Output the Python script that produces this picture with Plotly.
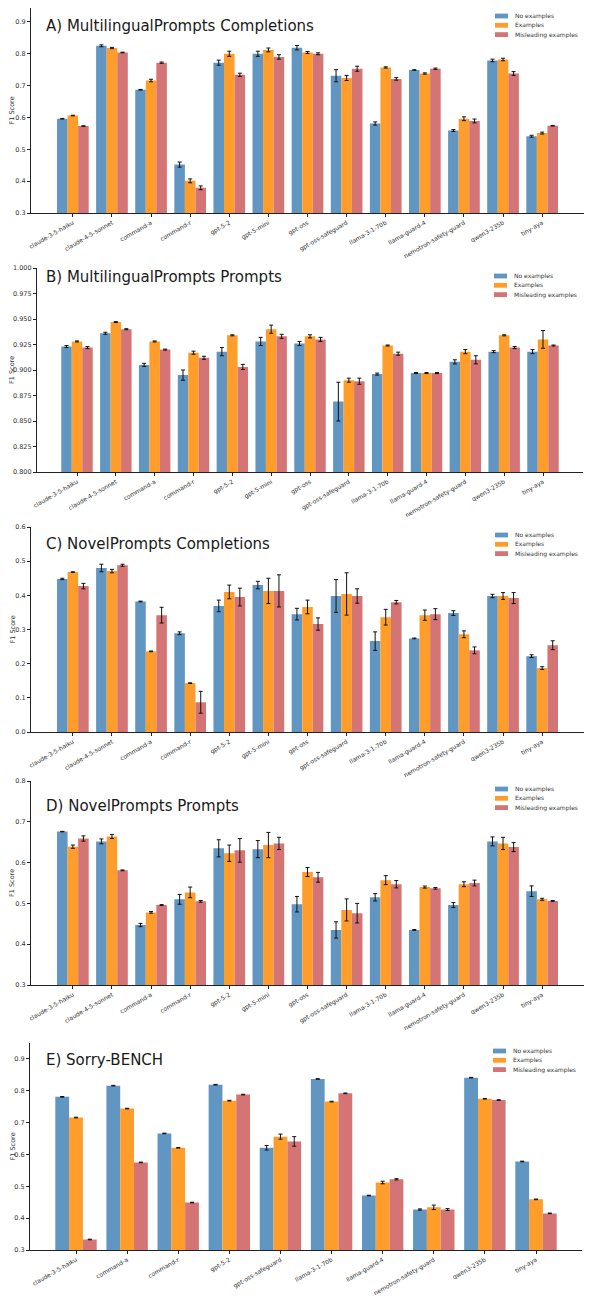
import plotly.graph_objects as go

#%% data
series_names = ['No examples', 'Examples', 'Misleading examples']
series_colors = ['#6196c3', '#ff9d2a', '#d57474']

models_13 = ['claude-3-5-haiku', 'claude-4-5-sonnet', 'command-a', 'command-r', 'gpt-5-2',
             'gpt-5-mini', 'gpt-oss', 'gpt-oss-safeguard', 'llama-3-1-70b', 'llama-guard-4',
             'nemotron-safety-guard', 'qwen3-235b', 'tiny-aya']
models_10 = ['claude-3-5-haiku', 'command-a', 'command-r', 'gpt-5-2', 'gpt-oss-safeguard',
             'llama-3-1-70b', 'llama-guard-4', 'nemotron-safety-guard', 'qwen3-235b', 'tiny-aya']

# A) MultilingualPrompts Completions
a_none = [0.596, 0.825, 0.687, 0.452, 0.772, 0.800, 0.819, 0.731, 0.581, 0.749, 0.559, 0.779, 0.541]
a_ex = [0.606, 0.818, 0.716, 0.401, 0.800, 0.812, 0.804, 0.724, 0.757, 0.738, 0.596, 0.782, 0.551]
a_mis = [0.573, 0.804, 0.772, 0.379, 0.734, 0.790, 0.800, 0.753, 0.721, 0.753, 0.589, 0.738, 0.574]
a_none_err = [0.001, 0.003, 0.001, 0.008, 0.008, 0.008, 0.007, 0.019, 0.005, 0.001, 0.003, 0.004, 0.003]
a_ex_err = [0.001, 0.002, 0.004, 0.006, 0.008, 0.006, 0.003, 0.008, 0.002, 0.002, 0.006, 0.004, 0.003]
a_mis_err = [0.001, 0.001, 0.002, 0.006, 0.005, 0.007, 0.003, 0.008, 0.004, 0.002, 0.006, 0.006, 0.001]

# B) MultilingualPrompts Prompts
b_none = [0.923, 0.936, 0.905, 0.895, 0.918, 0.928, 0.926, 0.869, 0.896, 0.897, 0.908, 0.918, 0.918]
b_ex = [0.928, 0.947, 0.928, 0.917, 0.934, 0.940, 0.933, 0.890, 0.924, 0.897, 0.918, 0.934, 0.930]
b_mis = [0.922, 0.940, 0.920, 0.912, 0.903, 0.933, 0.930, 0.889, 0.916, 0.897, 0.910, 0.922, 0.924]
b_none_err = [0.001, 0.001, 0.0015, 0.005, 0.004, 0.004, 0.002, 0.019, 0.001, 0.0005, 0.002, 0.001, 0.002]
b_ex_err = [0.0005, 0.0005, 0.0005, 0.0015, 0.0005, 0.004, 0.0015, 0.002, 0.0005, 0.0005, 0.002, 0.0005, 0.0087]
b_mis_err = [0.001, 0.0005, 0.0005, 0.0015, 0.0025, 0.002, 0.002, 0.003, 0.0015, 0.0005, 0.004, 0.001, 0.0005]

# C) NovelPrompts Completions
c_none = [0.448, 0.480, 0.382, 0.289, 0.369, 0.430, 0.345, 0.398, 0.266, 0.274, 0.348, 0.398, 0.222]
c_ex = [0.468, 0.471, 0.236, 0.143, 0.410, 0.413, 0.366, 0.404, 0.336, 0.342, 0.286, 0.398, 0.187]
c_mis = [0.427, 0.488, 0.342, 0.087, 0.395, 0.413, 0.316, 0.398, 0.380, 0.345, 0.239, 0.392, 0.254]
c_none_err = [0.002, 0.011, 0.001, 0.004, 0.017, 0.011, 0.017, 0.048, 0.027, 0.001, 0.007, 0.005, 0.004]
c_ex_err = [0.001, 0.005, 0.001, 0.001, 0.020, 0.037, 0.020, 0.062, 0.023, 0.015, 0.010, 0.010, 0.004]
c_mis_err = [0.008, 0.003, 0.023, 0.032, 0.026, 0.047, 0.018, 0.021, 0.005, 0.016, 0.010, 0.016, 0.013]

# D) NovelPrompts Prompts
d_none = [0.676, 0.652, 0.447, 0.510, 0.635, 0.633, 0.498, 0.435, 0.515, 0.435, 0.496, 0.652, 0.530]
d_ex = [0.639, 0.664, 0.478, 0.527, 0.623, 0.643, 0.577, 0.484, 0.557, 0.540, 0.547, 0.647, 0.510]
d_mis = [0.659, 0.581, 0.496, 0.505, 0.630, 0.647, 0.564, 0.476, 0.547, 0.537, 0.550, 0.638, 0.506]
d_none_err = [0.0005, 0.006, 0.004, 0.012, 0.021, 0.021, 0.019, 0.020, 0.009, 0.001, 0.006, 0.011, 0.013]
d_ex_err = [0.004, 0.005, 0.002, 0.013, 0.020, 0.031, 0.011, 0.027, 0.011, 0.0025, 0.006, 0.015, 0.0025]
d_mis_err = [0.0065, 0.001, 0.001, 0.002, 0.029, 0.015, 0.012, 0.024, 0.009, 0.002, 0.007, 0.011, 0.001]

# E) Sorry-BENCH
e_none = [0.781, 0.816, 0.666, 0.819, 0.621, 0.837, 0.471, 0.427, 0.841, 0.578]
e_ex = [0.716, 0.744, 0.621, 0.769, 0.656, 0.766, 0.512, 0.434, 0.775, 0.459]
e_mis = [0.333, 0.575, 0.449, 0.788, 0.641, 0.792, 0.522, 0.427, 0.771, 0.415]
e_none_err = [0.001, 0.001, 0.001, 0.001, 0.007, 0.001, 0.001, 0.002, 0.001, 0.001]
e_ex_err = [0.001, 0.001, 0.001, 0.001, 0.008, 0.001, 0.004, 0.007, 0.001, 0.001]
e_mis_err = [0.001, 0.001, 0.001, 0.001, 0.015, 0.001, 0.002, 0.003, 0.001, 0.001]

#%% layout in page pixels (matched to the reference page)
# the html body has an 8px margin, so the figure is 8px smaller and positions are shifted back
OFF = 8
W, H = 592 - OFF, 1306 - OFF
FONT = 'DejaVu Sans'

panels = [
    # title, categories, values, errors, y range, y ticks, fmt, px box (left, right, top, bottom), title y, ytitle x
    ('A) MultilingualPrompts Completions', models_13, [a_none, a_ex, a_mis], [a_none_err, a_ex_err, a_mis_err],
     [0.3, 0.9437], [0.3, 0.4, 0.5, 0.6, 0.7, 0.8, 0.9], '.1f', (31, 584, 8, 213), 26, 12),
    ('B) MultilingualPrompts Prompts', models_13, [b_none, b_ex, b_mis], [b_none_err, b_ex_err, b_mis_err],
     [0.8, 1.0], [0.8, 0.825, 0.85, 0.875, 0.9, 0.925, 0.95, 0.975, 1.0], '.3f', (37, 583, 268, 472), 277, 12),
    ('C) NovelPrompts Completions', models_13, [c_none, c_ex, c_mis], [c_none_err, c_ex_err, c_mis_err],
     [0.0, 0.6], [0.0, 0.1, 0.2, 0.3, 0.4, 0.5, 0.6], '.1f', (31, 584, 527, 732), 544, 12),
    ('D) NovelPrompts Prompts', models_13, [d_none, d_ex, d_mis], [d_none_err, d_ex_err, d_mis_err],
     [0.3, 0.8], [0.3, 0.4, 0.5, 0.6, 0.7, 0.8], '.1f', (31, 584, 781, 985), 806, 12),
    ('E) Sorry-BENCH', models_10, [e_none, e_ex, e_mis], [e_none_err, e_ex_err, e_mis_err],
     [0.3, 0.95], [0.3, 0.4, 0.5, 0.6, 0.7, 0.8, 0.9], '.1f', (30, 582, 1043, 1250), 1060, 12),
]


def px_x(v):
    return min(max((v - OFF) / W, 0), 1)


def px_y(v):
    return min(max(1 - (v - OFF) / H, 0), 1)


fig = go.Figure()
shapes = []
annotations = []

for i, (title, cats, vals, errs, yr, yt, fmt, box, title_y, ytitle_x) in enumerate(panels):
    n = i + 1
    xa = 'x' if n == 1 else 'x%d' % n
    ya = 'y' if n == 1 else 'y%d' % n
    left, right, top, bottom = box

    for name, color, v, e in zip(series_names, series_colors, vals, errs):
        fig.add_trace(go.Bar(
            x=cats, y=v, name=name, xaxis=xa, yaxis=ya, showlegend=False,
            marker={'color': color, 'line': {'width': 0}},
            error_y={'type': 'data', 'array': e, 'color': '#111111', 'thickness': 1, 'width': 2},
        ))

    pad = 1.07 if len(cats) == 13 else 0.9
    if n == 2:
        pad = 1.03
    axis_common = {
        'showline': True,
        'linewidth': 1.2,
        'linecolor': '#222222',
        'ticks': 'outside',
        'ticklen': 3,
        'tickwidth': 0.8,
        'tickcolor': '#222222',
        'showgrid': False,
        'zeroline': False,
        'automargin': False,
        'tickfont': {'family': FONT, 'size': 6, 'color': '#333333'},
    }
    fig.update_layout({
        ('xaxis' if n == 1 else 'xaxis%d' % n): dict(
            axis_common,
            domain=[px_x(left), px_x(right)],
            anchor=ya,
            type='category',
            range=[-pad, len(cats) - 1 + pad],
            tickangle=-30,
        ),
        ('yaxis' if n == 1 else 'yaxis%d' % n): dict(
            axis_common,
            domain=[px_y(bottom), px_y(top)],
            anchor=xa,
            range=yr,
            tickvals=yt,
            tickformat=fmt,
            tickfont={'family': FONT, 'size': 6.5, 'color': '#333333'},
        ),
    })

    # y axis label
    annotations.append(dict(
        text='F1 Score', xref='paper', yref='paper', x=px_x(ytitle_x), y=px_y((top + bottom) / 2),
        xanchor='center', yanchor='middle', textangle=-90, showarrow=False,
        font={'family': FONT, 'size': 6.5, 'color': '#333333'},
    ))

    # panel title
    annotations.append(dict(
        text=title, xref='paper', yref='paper', x=px_x(44), y=px_y(title_y),
        xanchor='left', yanchor='middle', showarrow=False,
        font={'family': FONT, 'size': 15, 'color': '#1a1a1a'},
    ))

    # legend (one per panel, top right)
    for k, (name, color) in enumerate(zip(series_names, series_colors)):
        row_y = top + 8 + k * 9.3
        shapes.append(dict(
            type='rect', xref='paper', yref='paper', line={'width': 0}, fillcolor=color,
            x0=px_x(right - 89), x1=px_x(right - 76), y0=px_y(row_y + 2.4), y1=px_y(row_y - 2.4),
        ))
        annotations.append(dict(
            text=name, xref='paper', yref='paper', x=px_x(right - 71), y=px_y(row_y),
            xanchor='left', yanchor='middle', showarrow=False,
            font={'family': FONT, 'size': 6, 'color': '#333333'},
        ))

fig.update_layout(
    width=W,
    height=H,
    margin={'l': 0, 'r': 0, 't': 0, 'b': 0},
    paper_bgcolor='white',
    plot_bgcolor='white',
    barmode='group',
    bargap=0.19,
    bargroupgap=0,
    showlegend=False,
    shapes=shapes,
    annotations=annotations,
    font={'family': FONT},
)

fig.write_html('out.html')
